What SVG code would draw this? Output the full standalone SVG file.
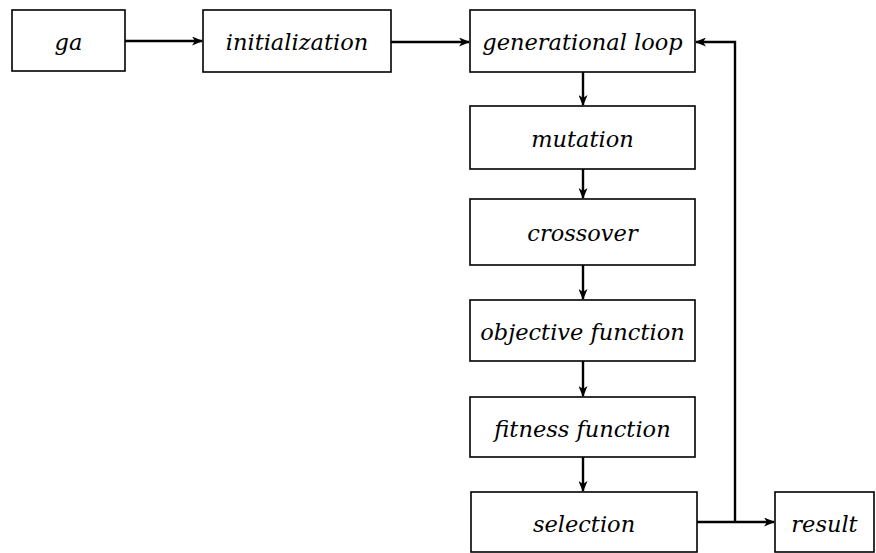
<svg xmlns="http://www.w3.org/2000/svg" width="876" height="553" viewBox="0 0 876 553">
<defs>
<style>
.box{fill:#fff;stroke:#000;stroke-width:1.6}
.lbl{font-family:"DejaVu Serif","Liberation Serif",serif;font-style:italic;font-size:22.5px;text-anchor:middle;fill:#000}
.c{fill:none;stroke:#000;stroke-width:2.4}
</style>
<marker id="ah" markerWidth="11" markerHeight="9" refX="10" refY="4.5" orient="auto" markerUnits="userSpaceOnUse">
<path d="M0,0 L11,4.5 L0,9 L3,4.5 Z" fill="#000"/>
</marker>
</defs>
<rect width="876" height="553" fill="#fff"/>
<g id="connectors">
<line class="c" x1="125" y1="41" x2="202" y2="41" marker-end="url(#ah)"/>
<line class="c" x1="391" y1="42" x2="469" y2="42" marker-end="url(#ah)"/>
<line class="c" x1="583" y1="72" x2="583" y2="105" marker-end="url(#ah)"/>
<line class="c" x1="583" y1="169" x2="583" y2="198" marker-end="url(#ah)"/>
<line class="c" x1="583" y1="265" x2="583" y2="299" marker-end="url(#ah)"/>
<line class="c" x1="583" y1="361" x2="583" y2="396" marker-end="url(#ah)"/>
<line class="c" x1="583" y1="457" x2="583" y2="491" marker-end="url(#ah)"/>
<line class="c" x1="697" y1="522" x2="774" y2="522" marker-end="url(#ah)"/>
<polyline class="c" points="735,522 735,42 696,42" marker-end="url(#ah)"/>
</g>
<g id="n-ga"><rect class="box" x="12" y="10" width="113" height="61"/><text class="lbl" x="68.5" y="49.5">ga</text></g>
<g id="n-init"><rect class="box" x="203" y="10" width="188" height="62"/><text class="lbl" x="297" y="49.5">initialization</text></g>
<g id="n-loop"><rect class="box" x="470" y="10" width="225" height="62"/><text class="lbl" x="582.5" y="49.5">generational loop</text></g>
<g id="n-mut"><rect class="box" x="470" y="106" width="225" height="63"/><text class="lbl" x="582.5" y="146.5">mutation</text></g>
<g id="n-cross"><rect class="box" x="470" y="199" width="225" height="66"/><text class="lbl" x="582.5" y="240.5">crossover</text></g>
<g id="n-obj"><rect class="box" x="470" y="300" width="225" height="61"/><text class="lbl" x="582.5" y="339.5">objective function</text></g>
<g id="n-fit"><rect class="box" x="470" y="397" width="225" height="60"/><text class="lbl" x="582.5" y="436.5">fitness function</text></g>
<g id="n-sel"><rect class="box" x="471" y="492" width="226" height="60"/><text class="lbl" x="584" y="531.5">selection</text></g>
<g id="n-res"><rect class="box" x="775" y="492" width="99" height="60"/><text class="lbl" x="824.5" y="531.5">result</text></g>
</svg>
